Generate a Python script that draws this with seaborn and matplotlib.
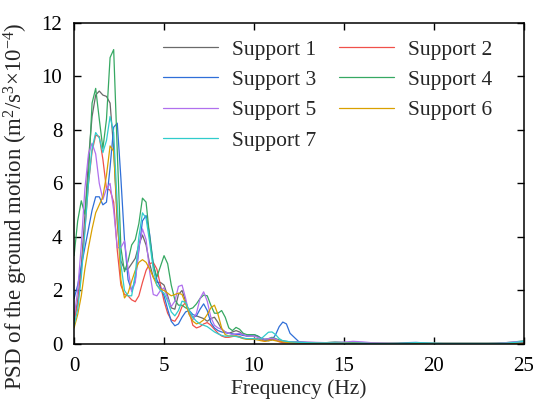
import numpy as np
import pandas as pd
import matplotlib
matplotlib.use("Agg")
import matplotlib.pyplot as plt
import seaborn as sns

# Frequency grid (Hz): fine below 12 Hz, coarser in the quiet tail
freq_low = [round(0.2 * i, 1) for i in range(61)]          # 0.0 .. 12.0
freq_tail = [12.5 + 0.5 * i for i in range(26)]             # 12.5 .. 25.0
freq = freq_low + freq_tail

support_1 = [
    0.9, 1.6, 2.9, 4.8, 6.9, 8.5, 9.3, 9.45, 9.3, 9.25,
    9.0, 7.3, 4.5, 3.1, 2.8, 2.8, 3.0, 3.2, 3.7, 4.07,
    3.7, 3.0, 2.5, 2.3, 2.3, 2.2, 1.8, 1.35, 1.3, 1.85,
    2.0, 1.6, 1.15, 1.0, 1.05, 1.0, 0.95, 0.85, 0.95, 1.0,
    0.8, 0.55, 0.45, 0.4, 0.45, 0.5, 0.45, 0.35, 0.3, 0.3,
    0.3, 0.28, 0.2, 0.15, 0.15, 0.18, 0.15, 0.12, 0.1, 0.08,
    0.08,
    0.07, 0.06, 0.05, 0.05, 0.06, 0.05, 0.04, 0.03, 0.03, 0.02,
    0.02, 0.02, 0.02, 0.02, 0.02, 0.02, 0.02, 0.02, 0.02, 0.02,
    0.02, 0.02, 0.02, 0.03, 0.04, 0.05,
]
support_2 = [
    0.85, 1.5, 2.7, 4.3, 6.0, 7.2, 7.8, 7.75, 6.9, 5.8,
    5.75, 5.3, 3.5, 2.2, 1.85, 1.8, 1.65, 1.58, 1.8, 2.3,
    2.75, 3.0, 3.05, 2.8, 2.2, 1.6, 1.15, 0.9, 0.85, 1.05,
    1.4, 1.55, 1.2, 0.7, 0.6, 0.65, 0.75, 0.8, 0.7, 0.55,
    0.4, 0.3, 0.25, 0.25, 0.28, 0.3, 0.28, 0.22, 0.18, 0.17,
    0.18, 0.2, 0.15, 0.1, 0.15, 0.2, 0.15, 0.08, 0.05, 0.05,
    0.05,
    0.04, 0.03, 0.03, 0.03, 0.03, 0.02, 0.02, 0.02, 0.02, 0.02,
    0.02, 0.02, 0.02, 0.02, 0.02, 0.02, 0.02, 0.02, 0.02, 0.02,
    0.02, 0.02, 0.02, 0.02, 0.02, 0.03,
]
support_3 = [
    1.7, 2.2, 2.9, 3.6, 4.3, 5.0, 5.5, 5.5, 5.2, 5.3,
    6.6, 8.1, 8.25, 6.2, 3.9, 2.4, 2.0, 2.4, 3.5, 4.6,
    4.8, 4.1, 3.0, 2.4, 2.1, 1.8, 1.3, 0.85, 0.68, 0.75,
    1.0, 1.2, 1.25, 1.1, 1.05, 1.3, 1.5, 1.25, 0.8, 0.6,
    0.5, 0.45, 0.42, 0.4, 0.38, 0.36, 0.35, 0.32, 0.3, 0.32,
    0.35, 0.3, 0.22, 0.15, 0.12, 0.15, 0.35, 0.65, 0.82, 0.75,
    0.4,
    0.08, 0.05, 0.04, 0.03, 0.03, 0.03, 0.03, 0.02, 0.02, 0.02,
    0.02, 0.03, 0.05, 0.06, 0.04, 0.02, 0.02, 0.02, 0.02, 0.02,
    0.02, 0.02, 0.02, 0.02, 0.02, 0.03,
]
support_4 = [
    3.3, 4.6, 5.35, 4.85, 6.3, 9.0, 9.55, 8.4, 7.3, 8.4,
    10.7, 11.0, 7.2, 3.6, 2.7, 3.1, 3.7, 3.9, 4.5, 5.45,
    5.3, 4.0, 2.95, 2.5, 2.9, 3.3, 3.0, 2.2, 1.65, 1.45,
    1.45, 1.35, 1.3, 1.35, 1.5, 1.7, 1.83, 1.8, 1.45, 1.15,
    1.15, 1.25, 1.0, 0.6, 0.5, 0.62, 0.55, 0.4, 0.35, 0.35,
    0.35, 0.3, 0.2, 0.18, 0.2, 0.25, 0.2, 0.15, 0.12, 0.1,
    0.08,
    0.06, 0.05, 0.04, 0.05, 0.07, 0.06, 0.04, 0.03, 0.03, 0.02,
    0.02, 0.02, 0.02, 0.02, 0.02, 0.02, 0.02, 0.02, 0.02, 0.02,
    0.02, 0.02, 0.03, 0.05, 0.08, 0.12,
]
support_5 = [
    1.0, 2.0, 3.7, 5.8, 7.1, 7.5, 7.1, 6.0, 5.4, 5.8,
    6.0, 5.0, 3.6, 3.6, 3.85, 2.8, 1.95, 2.3, 3.6, 4.3,
    3.9, 2.7, 1.85, 1.8, 2.0, 2.1, 1.7, 1.4, 1.6, 2.15,
    2.2, 1.7, 1.1, 0.9, 1.15, 1.7, 1.95, 1.6, 1.0, 0.7,
    0.6, 0.55, 0.45, 0.4, 0.35, 0.38, 0.4, 0.35, 0.3, 0.3,
    0.3, 0.25, 0.2, 0.18, 0.2, 0.22, 0.18, 0.12, 0.1, 0.08,
    0.08,
    0.07, 0.07, 0.06, 0.05, 0.06, 0.07, 0.1, 0.08, 0.05, 0.04,
    0.03, 0.02, 0.02, 0.02, 0.02, 0.02, 0.02, 0.02, 0.02, 0.02,
    0.02, 0.02, 0.03, 0.05, 0.08, 0.1,
]
support_6 = [
    0.6, 1.1, 1.8, 2.8, 3.6, 4.3, 4.9, 5.2, 5.5, 6.3,
    7.4, 7.2, 4.8, 2.4, 1.72, 1.9, 2.35, 2.75, 3.05, 3.15,
    3.05, 2.8, 2.5, 2.2, 2.05, 2.0, 1.9, 1.8, 1.85, 1.9,
    1.85, 1.5, 1.1, 0.85, 0.75, 0.8, 0.9, 1.1, 1.35, 1.45,
    1.1, 0.6, 0.35, 0.3, 0.3, 0.3, 0.25, 0.2, 0.18, 0.18,
    0.18, 0.15, 0.12, 0.1, 0.12, 0.15, 0.12, 0.1, 0.08, 0.06,
    0.05,
    0.04, 0.04, 0.03, 0.03, 0.03, 0.03, 0.03, 0.02, 0.02, 0.02,
    0.02, 0.02, 0.02, 0.02, 0.02, 0.02, 0.02, 0.02, 0.02, 0.02,
    0.02, 0.02, 0.02, 0.02, 0.02, 0.02,
]
support_7 = [
    0.7, 1.3, 2.5, 4.2, 6.0, 7.3, 7.9, 7.7, 7.15, 7.6,
    8.5, 7.9, 5.2, 3.0, 2.0, 1.8, 1.8, 2.6, 4.0, 4.9,
    4.7, 3.8, 2.8, 2.2, 2.0, 1.9, 1.6, 1.2, 1.05, 1.25,
    1.6, 1.55, 1.25, 1.0, 0.85, 0.75, 0.7, 0.65, 0.55, 0.45,
    0.38, 0.32, 0.29, 0.3, 0.3, 0.28, 0.25, 0.22, 0.2, 0.2,
    0.2, 0.18, 0.2, 0.32, 0.44, 0.45, 0.35, 0.2, 0.12, 0.1,
    0.08,
    0.06, 0.05, 0.04, 0.04, 0.04, 0.03, 0.03, 0.03, 0.02, 0.02,
    0.02, 0.02, 0.03, 0.05, 0.04, 0.03, 0.02, 0.02, 0.02, 0.02,
    0.02, 0.02, 0.02, 0.03, 0.06, 0.1,
]

labels = [f"Support {i}" for i in range(1, 8)]
series = [support_1, support_2, support_3, support_4,
          support_5, support_6, support_7]
colors = ["#6a6a6a", "#f0504a", "#2f6fd8", "#36a862",
          "#b070ee", "#d9a000", "#30cccc"]

df = pd.concat(
    [pd.DataFrame({"Frequency": freq, "PSD": vals, "Support": lab})
     for lab, vals in zip(labels, series)],
    ignore_index=True,
)

sns.set_theme(style="ticks")
plt.rcParams["font.family"] = ["Liberation Serif", "DejaVu Serif"]
plt.rcParams["mathtext.fontset"] = "custom"
plt.rcParams["mathtext.rm"] = "Liberation Serif"
plt.rcParams["mathtext.it"] = "Liberation Serif:italic"

fs = 15.5
fig = plt.figure(figsize=(5.33, 4.0), dpi=100)
ax = fig.add_axes([0.139, 0.14, 0.844, 0.803])

sns.lineplot(data=df, x="Frequency", y="PSD", hue="Support",
             palette=dict(zip(labels, colors)), estimator=None,
             sort=False, linewidth=0.9, ax=ax, legend=False)

ax.set_xlim(0, 25)
ax.set_ylim(0, 12)
ax.set_xticks([0, 5, 10, 15, 20, 25])
ax.set_yticks([0, 2, 4, 6, 8, 10, 12])
ax.tick_params(direction="in", length=5, width=1.0, labelsize=15,
               top=True, right=True, colors="black")
ax.tick_params(axis="x", pad=9.5)
ax.tick_params(axis="y", pad=8.5)
for sp in ax.spines.values():
    sp.set_linewidth(1.1)
    sp.set_color("black")

ax.set_xlabel("Frequency (Hz)", fontsize=fs)
ax.xaxis.set_label_coords(0.5, -0.11)
ax.set_ylabel("PSD of the ground motion (m$^2$/s$^3$×10$^{-4}$)",
              fontsize=16.5)
ax.yaxis.set_label_coords(-0.097, 0.43)

lines = ax.get_lines()
order = [0, 2, 4, 6, 1, 3, 5]
ax.legend([lines[i] for i in order], [labels[i] for i in order],
          ncol=2, frameon=False, fontsize=fs,
          loc="upper left", bbox_to_anchor=(0.198, 0.948),
          borderaxespad=0, borderpad=0, handlelength=2.55,
          handletextpad=0.64, columnspacing=1.07, labelspacing=0.48)

fig.savefig("out.png", dpi=100)
